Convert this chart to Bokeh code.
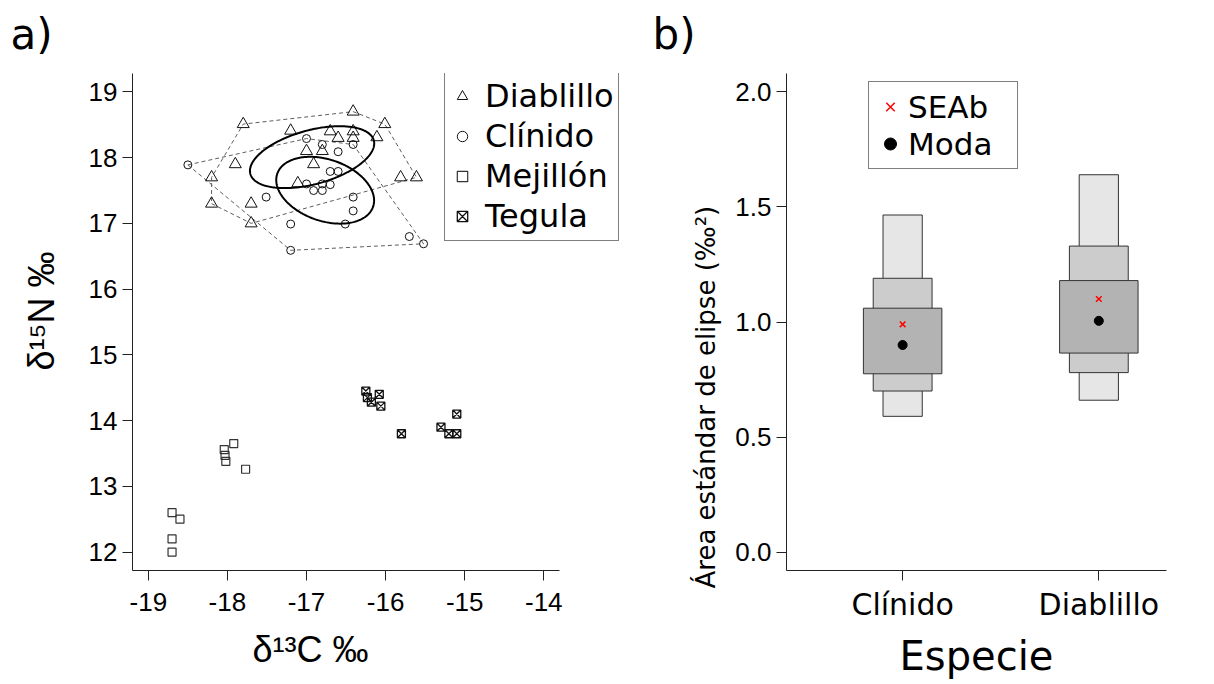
import numpy as np
from bokeh.plotting import figure
from bokeh.models import Range1d, FixedTicker, Legend, LegendItem, Title, NumeralTickFormatter
from bokeh.layouts import row
from bokeh.embed import file_html
from bokeh.resources import INLINE

# ---------------- data: panel a) ----------------
diab_x = [-17.80, -16.41, -16.01, -17.20, -16.70, -16.60, -16.41, -16.41, -16.11, -17.00,
          -16.80, -16.91, -17.90, -18.20, -15.81, -15.61, -17.11, -18.20, -17.70, -17.70]
diab_y = [18.51, 18.70, 18.51, 18.41, 18.40, 18.30, 18.40, 18.30, 18.31, 18.10,
          18.10, 17.90, 17.90, 17.70, 17.70, 17.70, 17.61, 17.30, 17.30, 17.00]

clin_x = [-18.50, -17.00, -16.80, -16.60, -16.41, -16.70, -16.60, -17.00, -16.80, -16.70,
          -16.91, -16.80, -17.51, -16.41, -16.41, -17.20, -16.51, -15.70, -15.52, -17.20]
clin_y = [17.89, 18.29, 18.20, 18.09, 18.20, 17.79, 17.79, 17.60, 17.60, 17.59,
          17.50, 17.50, 17.40, 17.40, 17.19, 16.99, 16.99, 16.80, 16.69, 16.59]

mej_x = [-18.70, -18.60, -18.70, -18.70, -18.04, -18.03, -18.02, -17.92, -17.77]
mej_y = [12.60, 12.50, 12.20, 12.00, 13.56, 13.47, 13.38, 13.65, 13.26]

teg_x = [-16.25, -16.23, -16.18, -16.08, -16.06, -15.80, -15.30, -15.20, -15.10, -15.10]
teg_y = [14.45, 14.35, 14.28, 14.40, 14.22, 13.80, 13.90, 13.80, 13.80, 14.10]

x_ticks_a = [-19, -18, -17, -16, -15, -14]
y_ticks_a = [12, 13, 14, 15, 16, 17, 18, 19]

# ---------------- data: panel b) ----------------
species = ["Clínido", "Diablillo"]
ci95_lo = [0.59, 0.66]
ci95_hi = [1.465, 1.64]
ci75_lo = [0.70, 0.78]
ci75_hi = [1.19, 1.33]
ci50_lo = [0.775, 0.865]
ci50_hi = [1.06, 1.18]
seab = [0.99, 1.10]
moda = [0.90, 1.005]
y_ticks_b = [0.0, 0.5, 1.0, 1.5, 2.0]


def convex_hull(xs, ys):
    pts = sorted(set(zip(xs, ys)))

    def cross(o, a, b):
        return (a[0] - o[0]) * (b[1] - o[1]) - (a[1] - o[1]) * (b[0] - o[0])
    lower = []
    for pt in pts:
        while len(lower) >= 2 and cross(lower[-2], lower[-1], pt) <= 0:
            lower.pop()
        lower.append(pt)
    upper = []
    for pt in reversed(pts):
        while len(upper) >= 2 and cross(upper[-2], upper[-1], pt) <= 0:
            upper.pop()
        upper.append(pt)
    h = lower[:-1] + upper[:-1]
    h.append(h[0])
    return [q[0] for q in h], [q[1] for q in h]


def standard_ellipse(xs, ys, n=240):
    X = np.array([xs, ys])
    mu = X.mean(axis=1)
    S = np.cov(X)
    vals, vecs = np.linalg.eigh(S)
    t = np.linspace(0, 2 * np.pi, n)
    circ = np.array([np.cos(t), np.sin(t)])
    pts = vecs @ (np.sqrt(vals)[:, None] * circ) + mu[:, None]
    return pts[0], pts[1]


def style_axes(p, ylabel_standoff=5, xlabel_standoff=12):
    p.xgrid.visible = False
    p.ygrid.visible = False
    p.outline_line_color = None
    p.background_fill_color = "white"
    p.border_fill_color = "white"
    for ax in (p.xaxis[0], p.yaxis[0]):
        ax.axis_line_color = "#222222"
        ax.axis_line_width = 1
        ax.major_tick_line_color = "#222222"
        ax.minor_tick_line_color = None
        ax.major_tick_out = 10
        ax.major_tick_in = 0
        ax.major_label_text_font = "Liberation Sans"
        ax.major_label_text_font_size = "26px"
        ax.major_label_text_color = "black"
        ax.axis_label_text_font_style = "normal"
        ax.axis_label_text_color = "black"
    p.xaxis[0].major_label_standoff = xlabel_standoff
    p.yaxis[0].major_label_standoff = ylabel_standoff


# padding tuple order used by Bokeh here: (left, right, top, bottom)
def add_title(p, text, side, align, offset, size, font, standoff=0, valign="bottom", pad=None):
    t = Title(text=text, align=align, offset=offset, text_font=font, text_font_size=size,
              text_font_style="normal", text_color="black", standoff=standoff, vertical_align=valign)
    if pad is not None:
        t.padding = pad
    p.add_layout(t, side)
    return t


FB = 570  # frame bottom (canvas px from top)

# ---------------- panel a) ----------------
L_LEFT = 132
p1 = figure(width=625, height=684, output_backend="svg", toolbar_location=None,
            x_range=Range1d(-19.2, -13.03), y_range=Range1d(11.72, 19.28),
            min_border_left=L_LEFT, min_border_right=5, min_border_top=73, min_border_bottom=114)
style_axes(p1)
p1.xaxis[0].ticker = FixedTicker(ticks=x_ticks_a)
p1.xaxis[0].major_label_overrides = {v: str(v) for v in x_ticks_a}
p1.yaxis[0].ticker = FixedTicker(ticks=y_ticks_a)
p1.xaxis[0].bounds = (-19.2, -13.8)

hd = convex_hull(diab_x, diab_y)
hc = convex_hull(clin_x, clin_y)
p1.line(hd[0], hd[1], line_color="#5e5e5e", line_dash="4 3", line_width=1)
p1.line(hc[0], hc[1], line_color="#5e5e5e", line_dash="4 3", line_width=1)

r_d = p1.scatter(diab_x, diab_y, marker="triangle", size=12, fill_color=None, line_color="#111111", line_width=1)
r_c = p1.scatter(clin_x, clin_y, marker="circle", size=8, fill_color=None, line_color="#111111", line_width=1)
r_m = p1.scatter(mej_x, mej_y, marker="square", size=8, fill_color=None, line_color="#333333", line_width=1.2)
r_t = p1.scatter(teg_x, teg_y, marker="square_x", size=8, fill_color=None, line_color="#111111", line_width=1.3)

ed = standard_ellipse(diab_x, diab_y)
ec = standard_ellipse(clin_x, clin_y)
p1.line(ed[0], ed[1], line_color="black", line_width=2)
p1.line(ec[0], ec[1], line_color="black", line_width=2)

leg1 = Legend(items=[LegendItem(label="Diablillo", renderers=[r_d]),
                     LegendItem(label="Clínido", renderers=[r_c]),
                     LegendItem(label="Mejillón", renderers=[r_m]),
                     LegendItem(label="Tegula", renderers=[r_t])],
              location=(444 - L_LEFT, FB - 241),
              label_text_font="DejaVu Sans", label_text_font_size="32px", label_text_color="black",
              glyph_width=26, glyph_height=40, label_height=40, label_width=127,
              label_standoff=10, padding=4, spacing=0,
              border_line_color="black", border_line_width=1,
              background_fill_color="white", background_fill_alpha=1.0)
p1.add_layout(leg1)

add_title(p1, "a)", "above", "left", 10 - L_LEFT, "42px", "DejaVu Sans", standoff=10,
          valign="bottom", pad=(0, 0, 0, 10))
add_title(p1, "δ¹³C ‰", "below", "left", 252 - L_LEFT, "36px", "Liberation Sans", standoff=0,
          valign="middle", pad=(0, 0, 14, 0))
add_title(p1, "δ¹⁵N ‰", "left", "left", FB - 370, "36px", "Liberation Sans", standoff=8,
          pad=(0, 0, 0, 20))

# ---------------- panel b) ----------------
R_LEFT = 786 - 625
p2 = figure(width=589, height=684, output_backend="svg", toolbar_location=None,
            x_range=Range1d(0.408, 2.345), y_range=Range1d(-0.08, 2.08),
            min_border_left=R_LEFT, min_border_right=48, min_border_top=73, min_border_bottom=114)
style_axes(p2, xlabel_standoff=6)
xpos = list(range(1, len(species) + 1))
p2.xaxis[0].ticker = FixedTicker(ticks=xpos)
p2.xaxis[0].major_label_overrides = {i: s for i, s in zip(xpos, species)}
p2.xaxis[0].major_label_text_font = "DejaVu Sans"
p2.xaxis[0].major_label_text_font_size = "30px"
p2.yaxis[0].ticker = FixedTicker(ticks=y_ticks_b)
p2.yaxis[0].formatter = NumeralTickFormatter(format="0.0")
p2.xaxis[0].axis_label = "Especie"
p2.xaxis[0].axis_label_text_font = "DejaVu Sans"
p2.xaxis[0].axis_label_text_font_size = "40px"
p2.xaxis[0].axis_label_standoff = 8

for lo, hi, hw, col in [(ci95_lo, ci95_hi, 0.10, "#e6e6e6"),
                        (ci75_lo, ci75_hi, 0.15, "#cccccc"),
                        (ci50_lo, ci50_hi, 0.20, "#b3b3b3")]:
    p2.quad(left=[x - hw for x in xpos], right=[x + hw for x in xpos], bottom=lo, top=hi,
            fill_color=col, line_color="#333333", line_width=1)

r_mode = p2.scatter(xpos, moda, marker="circle", size=9, fill_color="black", line_color="black")
r_seab = p2.scatter(xpos, seab, marker="x", size=8, line_color="red", line_width=1.5)

leg2 = Legend(items=[LegendItem(label="SEAb", renderers=[r_seab]),
                     LegendItem(label="Moda", renderers=[r_mode])],
              location=(868 - 786, FB - 169),
              label_text_font="DejaVu Sans", label_text_font_size="31px", label_text_color="black",
              glyph_width=30, glyph_height=37, label_height=37, label_width=103,
              label_standoff=3, padding=6, spacing=0,
              border_line_color="black", border_line_width=1,
              background_fill_color="white", background_fill_alpha=1.0)
p2.add_layout(leg2)

add_title(p2, "b)", "above", "left", 652 - 786, "42px", "DejaVu Sans", standoff=10,
          valign="bottom", pad=(0, 0, 0, 10))
add_title(p2, "Área estándar de elipse (‰²)", "left", "left", FB - 588, "26px", "DejaVu Sans", standoff=12,
          pad=(0, 0, 0, 6))

layout = row(p1, p2)
open("out.html", "w").write(file_html(layout, INLINE))
